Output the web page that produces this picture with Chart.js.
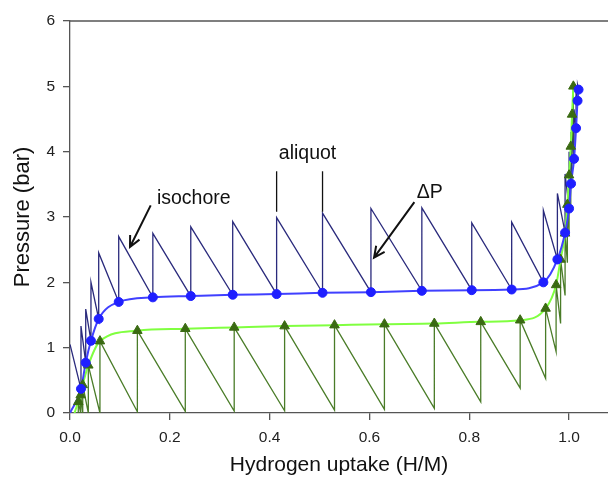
<!DOCTYPE html>
<html>
<head>
<meta charset="utf-8">
<script src="https://cdn.jsdelivr.net/npm/chart.js@4.4.0/dist/chart.umd.min.js"></script>
<style>
  body { margin: 0; background: #fff; }
  #wrap { width: 608px; height: 482px; }
</style>
</head>
<body>
<div id="wrap"><canvas id="pct" width="608" height="482"></canvas></div>
<script>
// absorption (circles) - equilibrium points and isochore peaks after each aliquot
const circleX = [0.022, 0.0315, 0.042, 0.0575, 0.0976, 0.166, 0.242, 0.326, 0.414, 0.506, 0.603, 0.705, 0.805, 0.885, 0.9485, 0.9766, 0.992, 1.0, 1.004, 1.010, 1.014, 1.017, 1.019];
const circleY = [0.37, 0.77, 1.105, 1.44, 1.70, 1.77, 1.79, 1.81, 1.82, 1.84, 1.85, 1.87, 1.88, 1.89, 2.0, 2.35, 2.76, 3.13, 3.51, 3.89, 4.36, 4.78, 4.95];
const peakY = [1.33, 1.59, 2.0, 2.45, 2.70, 2.75, 2.85, 2.93, 2.99, 3.06, 3.13, 3.14, 2.91, 2.92, 3.10, 3.36, 3.66, 4.0, 4.3, 4.65, 4.95, 5.02];
const sawStart = { x: 0, y: 1.05 };

// desorption (triangles) and the low points of each step
const triX = [0.0166, 0.0214, 0.0255, 0.0367, 0.060, 0.135, 0.231, 0.329, 0.430, 0.530, 0.630, 0.730, 0.823, 0.902, 0.953, 0.974, 0.983, 0.992, 0.9966, 1.000, 1.0034, 1.006, 1.0086];
const triY = [0.17, 0.275, 0.43, 0.73, 1.10, 1.26, 1.29, 1.31, 1.33, 1.345, 1.36, 1.37, 1.395, 1.42, 1.60, 1.96, 2.35, 2.75, 3.19, 3.64, 4.08, 4.57, 5.0];
const lowY = [0, 0, 0, 0, 0, 0.02, 0.025, 0.03, 0.035, 0.045, 0.055, 0.07, 0.17, 0.38, 0.53, 0.94, 1.37, 1.80, 2.3, 2.75, 3.2, 3.65, 4.1];

const xTicks = [0, 0.2, 0.4, 0.6, 0.8, 1.0];
const yTicks = [0, 1, 2, 3, 4, 5, 6];

// annotation anchors in data units
const notes = [
    { text: 'isochore', x: 0.248, y: 3.28 },
    { text: 'aliquot', x: 0.476, y: 3.97 },
    { text: '\u0394P', x: 0.721, y: 3.38 }
];
const aliquotLines = [
    { x: 0.414, y0: 3.08, y1: 3.70 },
    { x: 0.506, y0: 3.08, y1: 3.70 }
];
const arrows = [
    { x0: 0.1617, y0: 3.178, x1: 0.1202, y1: 2.541 },
    { x0: 0.690, y0: 3.228, x1: 0.6092, y1: 2.379 }
];

const circlePts = circleX.map((x, i) => ({ x: x, y: circleY[i] }));
const triPts = triX.map((x, i) => ({ x: x, y: triY[i] }));

const navySaw = [sawStart];
circleX.forEach((x, i) => {
    navySaw.push({ x: x, y: circleY[i] });
    if (i < peakY.length) navySaw.push({ x: x, y: peakY[i] });
});

const greenSaw = [];
triX.forEach((x, i) => {
    greenSaw.push({ x: x, y: lowY[i] });
    greenSaw.push({ x: x, y: triY[i] });
});

const blueFit = [{ x: 0, y: 0 }].concat(circlePts);
const greenFit = [{ x: 0.009, y: 0 }].concat(triPts);

const annotate = {
    id: 'annotate',
    afterDraw(chart) {
        const ctx = chart.ctx;
        const sx = chart.scales.x, sy = chart.scales.y;
        const area = chart.chartArea;
        ctx.save();
        // top frame line
        ctx.strokeStyle = '#555';
        ctx.lineWidth = 1.3;
        ctx.beginPath();
        ctx.moveTo(area.left, area.top);
        ctx.lineTo(chart.width, area.top);
        ctx.stroke();

        ctx.fillStyle = '#111';
        ctx.font = '19.5px "Liberation Sans", Arial, sans-serif';
        ctx.textAlign = 'center';
        ctx.textBaseline = 'middle';
        notes.forEach(n => ctx.fillText(n.text, sx.getPixelForValue(n.x), sy.getPixelForValue(n.y)));

        ctx.strokeStyle = '#111';
        ctx.lineWidth = 1.3;
        aliquotLines.forEach(l => {
            const px = sx.getPixelForValue(l.x);
            ctx.beginPath();
            ctx.moveTo(px, sy.getPixelForValue(l.y0));
            ctx.lineTo(px, sy.getPixelForValue(l.y1));
            ctx.stroke();
        });

        ctx.lineWidth = 2;
        arrows.forEach(a => {
            const x0 = sx.getPixelForValue(a.x0), y0 = sy.getPixelForValue(a.y0);
            const x1 = sx.getPixelForValue(a.x1), y1 = sy.getPixelForValue(a.y1);
            const ang = Math.atan2(y1 - y0, x1 - x0);
            const len = 12;
            ctx.beginPath();
            ctx.moveTo(x0, y0);
            ctx.lineTo(x1, y1);
            ctx.moveTo(x1 - len * Math.cos(ang - 0.45), y1 - len * Math.sin(ang - 0.45));
            ctx.lineTo(x1, y1);
            ctx.lineTo(x1 - len * Math.cos(ang + 0.45), y1 - len * Math.sin(ang + 0.45));
            ctx.stroke();
        });
        ctx.restore();
    }
};

const tickFont = { family: '"Liberation Sans", Arial, sans-serif', size: 15.5 };

new Chart(document.getElementById('pct'), {
    type: 'line',
    data: {
        datasets: [
            {
                data: circlePts, showLine: false, pointStyle: 'circle',
                pointRadius: 4.5, pointBackgroundColor: '#1f1fff', pointBorderColor: '#1f1fff', order: 1
            },
            {
                data: triPts, showLine: false, pointStyle: 'triangle',
                pointRadius: 5.5, pointBackgroundColor: '#3a6a12', pointBorderColor: '#3a6a12', order: 2
            },
            {
                data: blueFit, borderColor: '#4040ff', borderWidth: 2, pointRadius: 0,
                cubicInterpolationMode: 'monotone', order: 3
            },
            {
                data: greenFit, borderColor: '#80ff40', borderWidth: 2, pointRadius: 0,
                cubicInterpolationMode: 'monotone', order: 4
            },
            {
                data: navySaw, borderColor: '#2a2a7c', borderWidth: 1.3, pointRadius: 0, tension: 0, order: 5
            },
            {
                data: greenSaw, borderColor: '#4a7c28', borderWidth: 1.3, pointRadius: 0, tension: 0, order: 6
            }
        ]
    },
    options: {
        responsive: false,
        animation: false,
        layout: { autoPadding: false, padding: { top: 21, right: 0, left: 0, bottom: 0 } },
        plugins: { legend: { display: false }, tooltip: { enabled: false } },
        scales: {
            x: {
                type: 'linear', min: 0, max: 1.078,
                afterBuildTicks: s => { s.ticks = xTicks.map(v => ({ value: v })); },
                afterFit: s => { s.height = 69; s.paddingRight = 0; s.paddingLeft = 0; },
                ticks: { font: tickFont, color: '#222', padding: 8, callback: v => v.toFixed(1) },
                grid: { drawOnChartArea: false, drawTicks: true, tickLength: 7, color: '#555', lineWidth: 1.3 },
                border: { color: '#555', width: 1.3 },
                title: {
                    display: true, text: 'Hydrogen uptake (H/M)', color: '#111',
                    font: { family: '"Liberation Sans", Arial, sans-serif', size: 21 },
                    padding: { top: 0, bottom: 4 }
                }
            },
            y: {
                type: 'linear', min: 0, max: 6,
                afterBuildTicks: s => { s.ticks = yTicks.map(v => ({ value: v })); },
                afterFit: s => { s.width = 70; s.paddingTop = 0; s.paddingBottom = 0; },
                ticks: { font: tickFont, color: '#222', padding: 8 },
                grid: { drawOnChartArea: false, drawTicks: true, tickLength: 7, color: '#555', lineWidth: 1.3 },
                border: { color: '#555', width: 1.3 },
                title: {
                    display: true, text: 'Pressure (bar)', color: '#111',
                    font: { family: '"Liberation Sans", Arial, sans-serif', size: 22 },
                    padding: { top: 10, bottom: 0 }
                }
            }
        }
    },
    plugins: [annotate]
});
</script>
</body>
</html>
